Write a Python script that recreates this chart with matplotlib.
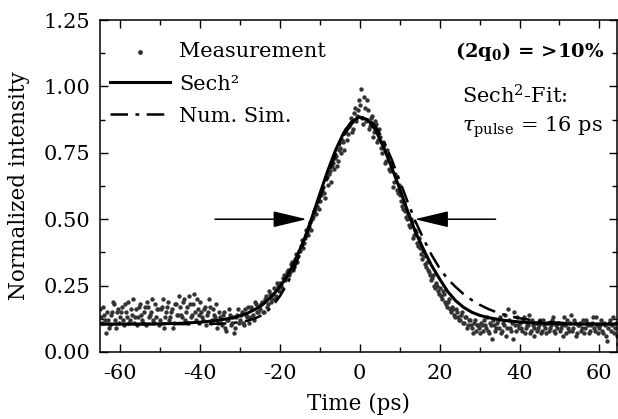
import numpy as np
import matplotlib
matplotlib.use("Agg")
import matplotlib.pyplot as plt
from matplotlib.ticker import MultipleLocator

plt.rcParams['font.family'] = ['DejaVu Serif']
plt.rcParams['mathtext.fontset'] = 'dejavuserif'
plt.rcParams['axes.unicode_minus'] = False

# Messpunkte, zwei Durchgänge (Zeitraster 0.5 ps, zweiter um 0.25 ps versetzt)
t_a = np.arange(-65, 65, 0.5)
meas_a = [
    0.16, 0.11, 0.14, 0.07, 0.12, 0.10, 0.15, 0.18, 0.09, 0.16,
    0.13, 0.17, 0.10, 0.15, 0.19, 0.12, 0.14, 0.11, 0.16, 0.13,
    0.18, 0.12, 0.15, 0.10, 0.17, 0.14, 0.20, 0.11, 0.13, 0.16,
    0.12, 0.17, 0.09, 0.15, 0.19, 0.13, 0.16, 0.11, 0.18, 0.14,
    0.17, 0.13, 0.20, 0.15, 0.11, 0.18, 0.14, 0.22, 0.12, 0.16,
    0.19, 0.13, 0.16, 0.10, 0.15, 0.17, 0.12, 0.14, 0.18, 0.11,
    0.13, 0.10, 0.15, 0.08, 0.12, 0.14, 0.11, 0.07, 0.13, 0.16,
    0.12, 0.15, 0.10, 0.14, 0.17, 0.13, 0.16, 0.12, 0.18, 0.15,
    0.16, 0.19, 0.15, 0.21, 0.18, 0.22, 0.20, 0.24, 0.21, 0.25,
    0.26, 0.24, 0.29, 0.28, 0.31, 0.30, 0.34, 0.32, 0.37, 0.36,
    0.38, 0.42, 0.41, 0.46, 0.44, 0.49, 0.50, 0.53, 0.52, 0.57,
    0.57, 0.61, 0.60, 0.65, 0.63, 0.68, 0.70, 0.69, 0.74, 0.72,
    0.77, 0.80, 0.76, 0.84, 0.82, 0.86, 0.83, 0.90, 0.87, 0.91,
    0.93, 0.88, 0.96, 0.87, 0.91, 0.85, 0.89, 0.83, 0.86, 0.80,
    0.81, 0.75, 0.78, 0.72, 0.74, 0.68, 0.70, 0.64, 0.66, 0.60,
    0.59, 0.55, 0.56, 0.51, 0.52, 0.47, 0.49, 0.44, 0.45, 0.40,
    0.39, 0.35, 0.36, 0.32, 0.31, 0.29, 0.28, 0.25, 0.26, 0.23,
    0.24, 0.20, 0.22, 0.18, 0.19, 0.16, 0.17, 0.14, 0.16, 0.13,
    0.12, 0.15, 0.11, 0.13, 0.10, 0.12, 0.09, 0.11, 0.08, 0.10,
    0.07, 0.10, 0.12, 0.09, 0.08, 0.11, 0.05, 0.10, 0.09, 0.12,
    0.13, 0.08, 0.10, 0.06, 0.16, 0.09, 0.11, 0.15, 0.08, 0.10,
    0.11, 0.08, 0.13, 0.09, 0.10, 0.07, 0.12, 0.09, 0.11, 0.08,
    0.10, 0.07, 0.12, 0.09, 0.11, 0.08, 0.10, 0.13, 0.07, 0.09,
    0.11, 0.09, 0.06, 0.10, 0.12, 0.08, 0.14, 0.09, 0.11, 0.07,
    0.10, 0.08, 0.12, 0.09, 0.11, 0.07, 0.10, 0.13, 0.08, 0.10,
    0.09, 0.12, 0.07, 0.10, 0.04, 0.11, 0.08, 0.13, 0.09, 0.06,
]
t_b = t_a + 0.25
meas_b = [
    0.13, 0.17, 0.12, 0.15, 0.09, 0.14, 0.19, 0.12, 0.15, 0.11,
    0.15, 0.12, 0.18, 0.13, 0.11, 0.16, 0.20, 0.13, 0.10, 0.17,
    0.14, 0.11, 0.17, 0.19, 0.13, 0.15, 0.12, 0.18, 0.16, 0.10,
    0.16, 0.20, 0.13, 0.17, 0.12, 0.15, 0.09, 0.18, 0.14, 0.21,
    0.14, 0.19, 0.12, 0.17, 0.21, 0.13, 0.18, 0.15, 0.20, 0.14,
    0.15, 0.12, 0.17, 0.14, 0.20, 0.11, 0.16, 0.13, 0.09, 0.15,
    0.11, 0.14, 0.09, 0.12, 0.16, 0.10, 0.13, 0.09, 0.14, 0.11,
    0.14, 0.11, 0.16, 0.13, 0.11, 0.17, 0.14, 0.19, 0.15, 0.17,
    0.18, 0.15, 0.20, 0.17, 0.23, 0.19, 0.22, 0.20, 0.26, 0.23,
    0.25, 0.28, 0.27, 0.30, 0.29, 0.33, 0.31, 0.35, 0.34, 0.38,
    0.40, 0.39, 0.43, 0.45, 0.47, 0.46, 0.51, 0.54, 0.55, 0.54,
    0.59, 0.62, 0.58, 0.66, 0.67, 0.64, 0.71, 0.73, 0.70, 0.76,
    0.75, 0.79, 0.83, 0.80, 0.85, 0.88, 0.84, 0.92, 0.89, 0.95,
    0.99, 0.86, 0.92, 0.95, 0.84, 0.88, 0.81, 0.87, 0.79, 0.84,
    0.77, 0.79, 0.71, 0.76, 0.69, 0.71, 0.62, 0.67, 0.61, 0.63,
    0.57, 0.54, 0.53, 0.50, 0.48, 0.50, 0.43, 0.46, 0.41, 0.43,
    0.37, 0.38, 0.33, 0.34, 0.30, 0.27, 0.29, 0.24, 0.25, 0.22,
    0.21, 0.23, 0.19, 0.17, 0.20, 0.15, 0.16, 0.13, 0.15, 0.12,
    0.14, 0.11, 0.13, 0.09, 0.12, 0.10, 0.07, 0.12, 0.10, 0.09,
    0.11, 0.08, 0.10, 0.13, 0.07, 0.10, 0.12, 0.08, 0.11, 0.09,
    0.07, 0.11, 0.14, 0.09, 0.12, 0.08, 0.05, 0.10, 0.13, 0.09,
    0.09, 0.12, 0.07, 0.10, 0.14, 0.08, 0.10, 0.06, 0.11, 0.09,
    0.12, 0.08, 0.10, 0.07, 0.11, 0.09, 0.12, 0.08, 0.10, 0.11,
    0.08, 0.10, 0.13, 0.07, 0.09, 0.11, 0.08, 0.12, 0.06, 0.10,
    0.11, 0.09, 0.07, 0.12, 0.10, 0.08, 0.11, 0.09, 0.13, 0.07,
    0.10, 0.08, 0.11, 0.06, 0.09, 0.12, 0.10, 0.07, 0.11, 0.03,
]

# Sech^2-Fit
fit_t = [-65, -55, -50, -45, -40, -36, -32, -30, -28, -26, -24, -22, -20, -18,
         -16, -14, -12, -10, -8, -6, -4, -2, 0, 2, 4, 6, 8, 10, 12, 14, 16, 18,
         20, 22, 24, 26, 28, 30, 32, 36, 40, 45, 50, 55, 65]
fit_y = [0.105, 0.105, 0.106, 0.108, 0.112, 0.118, 0.128, 0.136, 0.147, 0.162,
         0.182, 0.210, 0.245, 0.290, 0.350, 0.420, 0.505, 0.595, 0.683, 0.762,
         0.826, 0.868, 0.885, 0.875, 0.835, 0.770, 0.695, 0.615, 0.530, 0.450,
         0.385, 0.325, 0.275, 0.228, 0.193, 0.168, 0.150, 0.138, 0.130, 0.119,
         0.113, 0.108, 0.106, 0.105, 0.105]

# numerische Simulation
sim_t = [-65, -40, -34, -30, -28, -26, -24, -22, -20, -18, -16, -14, -12, -10,
         -8, -6, -4, -2, 0, 2, 4, 6, 8, 10, 12, 14, 16, 18, 20, 22, 24, 26, 28,
         30, 32, 34, 36, 38, 40, 44, 48, 52, 56, 65]
sim_y = [0.105, 0.105, 0.107, 0.112, 0.118, 0.128, 0.142, 0.170, 0.210, 0.260,
         0.330, 0.410, 0.495, 0.580, 0.665, 0.745, 0.815, 0.860, 0.882, 0.880,
         0.850, 0.795, 0.725, 0.645, 0.565, 0.490, 0.425, 0.365, 0.315, 0.275,
         0.245, 0.218, 0.196, 0.178, 0.163, 0.151, 0.141, 0.133, 0.127, 0.118,
         0.112, 0.108, 0.106, 0.105]

fig = plt.figure(figsize=(6.18, 4.19), dpi=100)
ax = fig.add_axes([0.162, 0.160, 0.837, 0.792])

ax.scatter(np.concatenate([t_a, t_b]), meas_a + meas_b, s=10, color='#333333',
           linewidths=0, label='Measurement', zorder=2)
ax.plot(fit_t, fit_y, color='black', lw=2.2, label='Sech²', zorder=3)
ax.plot(sim_t, sim_y, color='black', lw=1.8, linestyle=(0, (7, 3, 1.5, 3)),
        label='Num. Sim.', zorder=3)

# FWHM-Pfeile
for tail, tip in [(-36.25, -13.25), (34.0, 13.75)]:
    ax.annotate('', xy=(tip, 0.5), xytext=(tail, 0.5),
                arrowprops=dict(arrowstyle='-|>,head_length=1.05,head_width=0.25',
                                mutation_scale=20, lw=1.1, color='black',
                                shrinkA=0, shrinkB=0))

ax.text(61.3, 1.13, r'(2$\mathbf{q_0}$) = >10%', fontsize=14, fontweight='bold',
        ha='right', va='center')
ax.text(25.7, 0.965, r'Sech$^2$-Fit:', fontsize=15, ha='left', va='center')
ax.text(25.7, 0.845, r'$\tau_{\rm pulse}$ = 16 ps', fontsize=15, ha='left', va='center')

ax.set_xlim(-65, 64.5)
ax.set_ylim(0, 1.25)
ax.xaxis.set_major_locator(MultipleLocator(20))
ax.xaxis.set_minor_locator(MultipleLocator(10))
ax.yaxis.set_major_locator(MultipleLocator(0.25))
ax.yaxis.set_minor_locator(MultipleLocator(0.125))
ax.yaxis.set_major_formatter(plt.FormatStrFormatter('%.2f'))
ax.tick_params(which='both', direction='in', top=True, right=True, labelsize=15)
ax.tick_params(which='major', length=6, width=1)
ax.tick_params(which='minor', length=3.5, width=1)
ax.tick_params(axis='y', pad=7)
ax.tick_params(axis='x', pad=9)
for sp in ax.spines.values():
    sp.set_linewidth(1.1)

ax.set_xlabel('Time (ps)', fontsize=15.5)
ax.set_ylabel('Normalized intensity', fontsize=15.5)
ax.xaxis.set_label_coords(0.5, -0.123)
ax.yaxis.set_label_coords(-0.135, 0.5)

ax.legend(loc='upper left', bbox_to_anchor=(0.003, 0.958), frameon=False,
          fontsize=15, handlelength=2.9, handletextpad=0.4, labelspacing=0.63,
          borderaxespad=0, markerscale=1.1)

fig.savefig('out.png', dpi=100)
